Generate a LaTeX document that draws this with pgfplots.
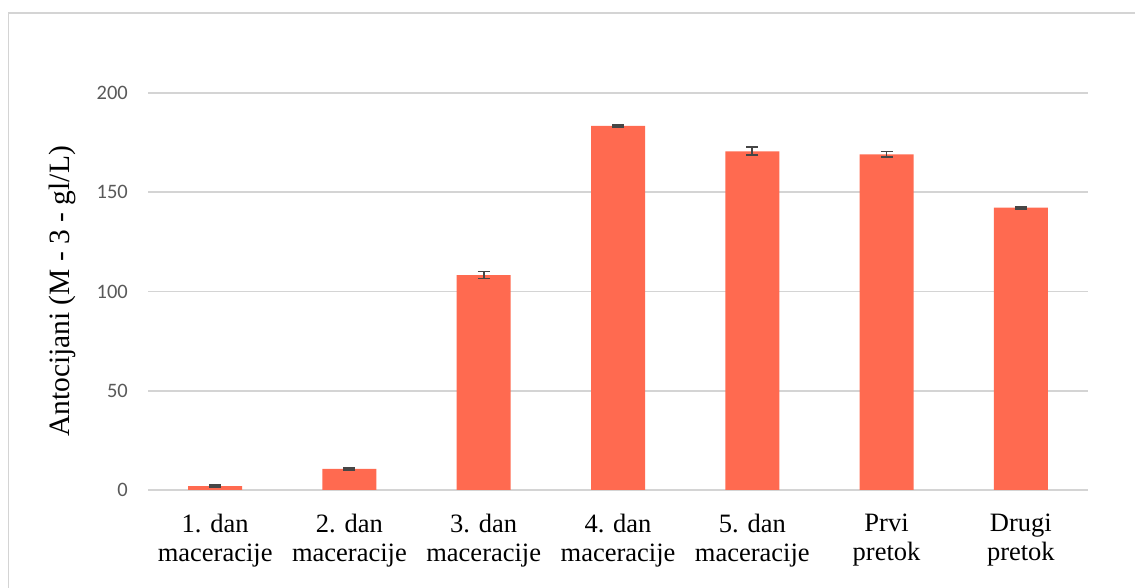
\documentclass[border=0pt]{standalone}
\usepackage{fontspec}
\setmainfont{Liberation Serif}
\newfontfamily\carlito{Carlito}
\usepackage{pgfplots}
\pgfplotsset{compat=1.18}
\definecolor{barcol}{RGB}{255,106,80}
\definecolor{gridcol}{RGB}{212,212,212}
\definecolor{tickcol}{RGB}{89,89,89}
\definecolor{errcol}{RGB}{70,70,70}
\begin{document}
\begin{tikzpicture}[x=1pt,y=1pt]
\useasboundingbox (0,0) rectangle (1135,588);
\draw[gridcol, line width=1.8pt] (8.5,0) -- (8.5,575) -- (1135,575);
\begin{axis}[
  at={(148pt,98pt)}, anchor=south west,
  scale only axis, width=940pt, height=397pt,
  xmin=-0.5, xmax=6.5, ymin=0, ymax=200,
  axis line style={draw=none},
  ymajorgrids, grid style={gridcol, line width=1.7pt},
  major tick length=0pt,
  ytick={0,50,100,150,200},
  xtick=data,
  xticklabels={{1. dan\\maceracije},{2. dan\\maceracije},{3. dan\\maceracije},{4. dan\\maceracije},{5. dan\\maceracije},{Prvi\\pretok},{Drugi\\pretok}},
  xticklabel style={align=center, inner sep=0pt, anchor=north, yshift=-24pt, font=\fontsize{26.5}{28.5}\selectfont, text=black},
  yticklabel style={inner sep=0pt, anchor=east, xshift=-20pt, font=\carlito\fontsize{20.5}{24}\selectfont, text=tickcol},
  /pgf/number format/assume math mode=true,
  ylabel={Antocijani (M - 3 - gl/L)},
  ylabel style={at={(axis description cs:-0.083,0.5)}, anchor=base, rotate=0, font=\fontsize{29.5}{32}\selectfont},
  clip=false,
]
\addplot[ybar, bar width=54pt, fill=barcol, draw=none,
  error bars/.cd, y dir=both, y explicit,
  error bar style={line width=1.8pt, errcol},
  error mark options={rotate=90, mark size=6pt, line width=1.8pt, errcol}]
  coordinates {
  (0,2.0) +- (0,0.5)
  (1,10.6) +- (0,0.5)
  (2,108.3) +- (0,1.8)
  (3,183.4) +- (0,0.5)
  (4,170.6) +- (0,2.0)
  (5,169.1) +- (0,1.4)
  (6,142.2) +- (0,0.5)
  };
\end{axis}
\end{tikzpicture}
\end{document}
